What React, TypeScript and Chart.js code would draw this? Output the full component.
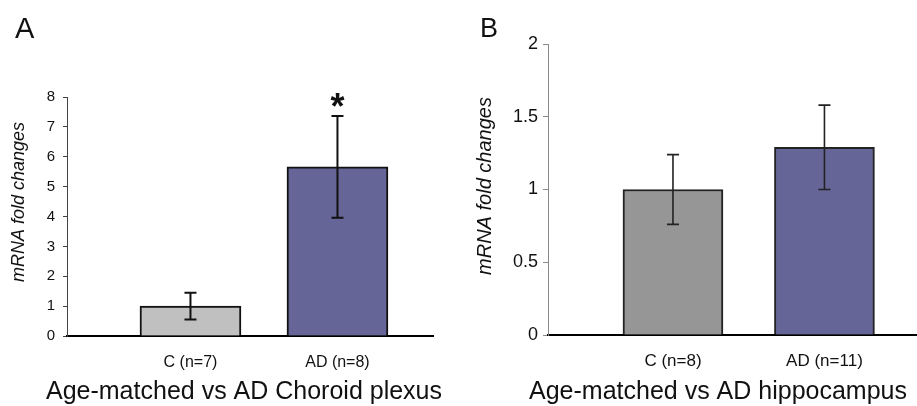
import React, { useEffect, useRef } from 'react';
import { Chart, registerables } from 'chart.js';

Chart.register(...registerables);

const FONT = '"Liberation Sans", Arial, Helvetica, sans-serif';

// ---------- Panel A data ----------
const categoriesA = ['C (n=7)', 'AD (n=8)'];
const meansA = [1.0, 5.66];
const errorsA = [0.45, 1.7];
const significantA = [false, true];
const yTicksA = [0, 1, 2, 3, 4, 5, 6, 7, 8];
const titleA = 'Age-matched vs AD Choroid plexus';

// ---------- Panel B data ----------
const categoriesB = ['C (n=8)', 'AD (n=11)'];
const meansB = [1.0, 1.29];
const errorsB = [0.24, 0.29];
const significantB = [false, false];
const yTicksB = [0, 0.5, 1, 1.5, 2];
const titleB = 'Age-matched vs AD hippocampus';

const yLabel = 'mRNA fold changes';

type Panel = {
  letter: string;
  categories: string[];
  means: number[];
  errors: number[];
  significant: boolean[];
  yTicks: number[];
  title: string;
  colors: string[];
  width: number;
  height: number;
  yAxisWidth: number;
  top: number;
  right: number;
  xAxisHeight: number;
  xMin: number;
  xMax: number;
  barWidth: number;
  barBorder: string;
  yTickSize: number;
  yTickPad: number;
  yTickLen: number;
  yAxisColor: string;
  xTickSize: number;
  xTickPad: number;
  errColor: string;
  errWidth: number;
  letterPos: [number, number];
  letterSize: number;
  yTitlePos: [number, number];
  yTitleSize: number;
  xTitlePos: [number, number];
};

const panelA: Panel = {
  letter: 'A',
  categories: categoriesA,
  means: meansA,
  errors: errorsA,
  significant: significantA,
  yTicks: yTicksA,
  title: titleA,
  colors: ['#c0c0c0', '#656598'],
  width: 450,
  height: 406,
  yAxisWidth: 67,
  top: 97,
  right: 17,
  xAxisHeight: 70,
  xMin: -0.84,
  xMax: 1.65,
  barWidth: 101,
  barBorder: '#111',
  yTickSize: 15,
  yTickPad: 8,
  yTickLen: 4,
  yAxisColor: '#444',
  xTickSize: 16,
  xTickPad: 17,
  errColor: '#111',
  errWidth: 2,
  letterPos: [15, 38],
  letterSize: 29,
  yTitlePos: [19, 202],
  yTitleSize: 18,
  xTitlePos: [244, 399],
};

const panelB: Panel = {
  letter: 'B',
  categories: categoriesB,
  means: meansB,
  errors: errorsB,
  significant: significantB,
  yTicks: yTicksB,
  title: titleB,
  colors: ['#969696', '#656598'],
  width: 467,
  height: 406,
  yAxisWidth: 98,
  top: 44,
  right: 0,
  xAxisHeight: 71,
  xMin: -0.825,
  xMax: 1.611,
  barWidth: 100,
  barBorder: '#222',
  yTickSize: 18,
  yTickPad: 5,
  yTickLen: 5,
  yAxisColor: '#8a8a8a',
  xTickSize: 17,
  xTickPad: 16,
  errColor: '#222',
  errWidth: 1.6,
  letterPos: [30, 37],
  letterSize: 27,
  yTitlePos: [35, 186],
  yTitleSize: 20,
  xTitlePos: [268, 399],
};

function makeChart(canvas: HTMLCanvasElement, p: Panel) {
  const data = p.categories.map((_, i) => ({ x: i, y: p.means[i] }));

  const errorBars = {
    id: 'errorBars' + p.letter,
    afterDatasetsDraw(chart: any) {
      const ctx = chart.ctx;
      const yScale = chart.scales.y;
      const meta = chart.getDatasetMeta(0);
      meta.data.forEach((el: any, i: number) => {
        const x = el.x;
        const top = yScale.getPixelForValue(p.means[i] + p.errors[i]);
        const bot = yScale.getPixelForValue(p.means[i] - p.errors[i]);
        const cap = 6;
        ctx.save();
        ctx.strokeStyle = p.errColor;
        ctx.lineWidth = p.errWidth;
        ctx.beginPath();
        ctx.moveTo(x, top);
        ctx.lineTo(x, bot);
        ctx.moveTo(x - cap, top);
        ctx.lineTo(x + cap, top);
        ctx.moveTo(x - cap, bot);
        ctx.lineTo(x + cap, bot);
        ctx.stroke();
        if (p.significant[i]) {
          ctx.fillStyle = '#111';
          ctx.font = `bold 36px ${FONT}`;
          ctx.textAlign = 'center';
          ctx.textBaseline = 'alphabetic';
          ctx.fillText('*', x, top + 3);
        }
        ctx.restore();
      });
    },
  };

  const texts = {
    id: 'texts' + p.letter,
    afterDraw(chart: any) {
      const ctx = chart.ctx;
      ctx.save();
      ctx.fillStyle = '#111';
      // panel letter
      ctx.font = `${p.letterSize}px ${FONT}`;
      ctx.textAlign = 'left';
      ctx.textBaseline = 'alphabetic';
      ctx.fillText(p.letter, p.letterPos[0], p.letterPos[1]);
      // x title
      ctx.font = `25px ${FONT}`;
      ctx.textAlign = 'center';
      ctx.fillText(p.title, p.xTitlePos[0], p.xTitlePos[1]);
      // y title
      ctx.translate(p.yTitlePos[0], p.yTitlePos[1]);
      ctx.rotate(-Math.PI / 2);
      ctx.font = `italic ${p.yTitleSize}px ${FONT}`;
      ctx.textAlign = 'center';
      ctx.textBaseline = 'middle';
      ctx.fillText(yLabel, 0, 0);
      ctx.restore();
    },
  };

  return new Chart(canvas, {
    type: 'bar',
    data: {
      datasets: [
        {
          data,
          backgroundColor: p.colors,
          borderColor: p.barBorder,
          borderWidth: 2,
          barThickness: p.barWidth,
          borderSkipped: 'start',
        } as any,
      ],
    },
    options: {
      responsive: false,
      maintainAspectRatio: false,
      animation: false,
      devicePixelRatio: 1,
      layout: { padding: { top: p.top, right: p.right, left: 0, bottom: 0 } },
      plugins: {
        legend: { display: false },
        tooltip: { enabled: false },
        title: { display: false },
      },
      scales: {
        x: {
          type: 'linear',
          offset: false,
          min: p.xMin,
          max: p.xMax,
          afterBuildTicks: (ax: any) => {
            ax.ticks = p.categories.map((_, i) => ({ value: i }));
          },
          afterFit: (ax: any) => {
            ax.height = p.xAxisHeight;
          },
          ticks: {
            callback: (v: any) => p.categories[v as number] ?? '',
            font: { family: FONT, size: p.xTickSize },
            color: '#111',
            padding: p.xTickPad,
            maxRotation: 0,
            autoSkip: false,
          },
          grid: { display: false, drawTicks: false },
          border: { display: true, color: '#000', width: 2 },
        },
        y: {
          type: 'linear',
          min: 0,
          max: p.yTicks[p.yTicks.length - 1],
          afterBuildTicks: (ax: any) => {
            ax.ticks = p.yTicks.map((v) => ({ value: v }));
          },
          afterFit: (ax: any) => {
            ax.width = p.yAxisWidth;
          },
          ticks: {
            callback: (v: any) => String(v),
            font: { family: FONT, size: p.yTickSize },
            color: '#111',
            padding: p.yTickPad,
          },
          grid: {
            drawOnChartArea: false,
            drawTicks: true,
            tickLength: p.yTickLen,
            color: p.yAxisColor,
            lineWidth: 1,
          },
          border: { display: true, color: p.yAxisColor, width: 1 },
        },
      },
    } as any,
    plugins: [errorBars, texts],
  });
}

function PanelChart({ p, left }: { p: Panel; left: number }) {
  const ref = useRef<HTMLCanvasElement>(null);
  useEffect(() => {
    if (!ref.current) return;
    const chart = makeChart(ref.current, p);
    return () => chart.destroy();
  }, [p]);
  return (
    <canvas
      ref={ref}
      width={p.width}
      height={p.height}
      style={{ position: 'absolute', left, top: 0, width: p.width, height: p.height }}
    />
  );
}

export default function App() {
  return (
    <div
      style={{
        position: 'fixed',
        left: 0,
        top: 0,
        width: 917,
        height: 406,
        background: '#fff',
        overflow: 'hidden',
      }}
    >
      <PanelChart p={panelA} left={0} />
      <PanelChart p={panelB} left={450} />
    </div>
  );
}
